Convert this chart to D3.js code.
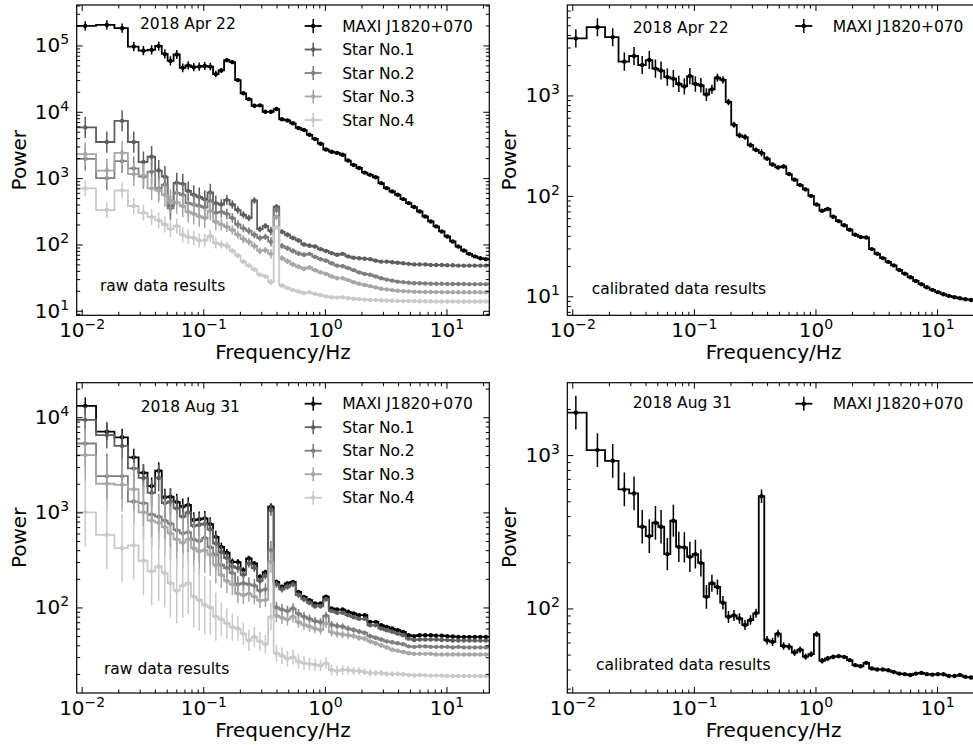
<!DOCTYPE html>
<html>
<head>
<meta charset="utf-8">
<script src="https://cdn.jsdelivr.net/npm/d3@7"></script>
<style>
  body { margin: 0; background: #fff; }
  svg { display: block; font-family: "DejaVu Sans", sans-serif; }
</style>
</head>
<body>
<div id="chart"></div>
<script>
// shared frequency grid (Hz)
const freqs = [0.0107, 0.0161, 0.0215, 0.0268, 0.0322, 0.0376, 0.0430, 0.0483, 0.0537, 0.0605,
  0.0678, 0.0752, 0.0835, 0.0927, 0.1029, 0.1142, 0.1268, 0.1407, 0.1562, 0.1734,
  0.1925, 0.2137, 0.2372, 0.2632, 0.2922, 0.3243, 0.3600, 0.3996, 0.4436, 0.4924,
  0.5465, 0.6066, 0.6733, 0.7474, 0.8296, 0.9209, 1.022, 1.135, 1.260, 1.398,
  1.552, 1.723, 1.912, 2.123, 2.356, 2.615, 2.903, 3.222, 3.577, 3.970,
  4.407, 4.891, 5.430, 6.027, 6.690, 7.426, 8.243, 9.149, 10.16, 11.27,
  12.51, 13.89, 15.42, 17.11, 18.99, 21.08];

// relative size of the error bars per bin (1 = lowest frequencies)
const relErr = [1.0, 1.0, 1.0, 1.0, 1.0, 1.0, 1.0, 1.0, 1.0, 0.95,
  0.95, 0.9, 0.9, 0.9, 0.85, 0.8, 0.7, 0.5, 0.45, 0.4,
  0.36, 0.33, 0.31, 0.3, 0.28, 0.27, 0.4, 0.25, 0.24, 0.23,
  0.22, 0.21, 0.2, 0.19, 0.18, 0.17, 0.17, 0.16, 0.15, 0.14,
  0.13, 0.12, 0.11, 0.1, 0.1, 0.09, 0.09, 0.08, 0.08, 0.07,
  0.07, 0.06, 0.06, 0.05, 0.05, 0.05, 0.04, 0.04, 0.04, 0.04,
  0.03, 0.03, 0.03, 0.03, 0.03, 0.03];

const seriesNames = ["MAXI J1820+070", "Star No.1", "Star No.2", "Star No.3", "Star No.4"];

// 2018 Apr 22, raw
const aprMaxi = [197000, 204000, 182000, 96000, 83500, 85600, 98000, 74500, 58500, 73000,
  46000, 50000, 47000, 48000, 49000, 48000, 37000, 42000, 60000, 56000,
  30000, 19000, 15500, 12300, 12500, 10000, 10000, 11000, 7700, 7400,
  6700, 5700, 5300, 4500, 3900, 3300, 2700, 2500, 2400, 2250,
  1840, 1580, 1420, 1210, 1120, 1030, 840, 706, 628, 561,
  483, 420, 366, 314, 264, 222, 187, 157, 132, 111,
  93, 81, 72, 66, 62, 60];
const aprStar1 = [5800, 3500, 7300, 3500, 1750, 2100, 1300, 1050, 380, 850,
  820, 640, 560, 520, 480, 610, 420, 400, 470, 400,
  330, 280, 250, 460, 170, 190, 160, 370, 155, 140,
  125, 115, 100, 96, 93, 85, 80, 74, 70, 72,
  66, 63, 62, 61, 60, 57, 55, 55, 54, 53,
  52, 51, 50, 50, 50, 49, 49, 49, 48.5, 48.5,
  48, 48, 48, 48, 48, 48];
const aprStar2 = [1950, 1000, 1800, 1400, 1050, 1250, 700, 800, 350, 600,
  560, 420, 400, 380, 360, 450, 300, 310, 290, 250,
  200, 175, 160, 140, 125, 130, 110, 330, 95, 88,
  80, 73, 70, 72, 65, 60, 57, 52, 48, 47,
  44, 41, 38, 36, 35, 33, 31, 29.5, 28.5, 27.5,
  27, 26.5, 26, 26, 25.8, 25.6, 25.5, 25.5, 25.4, 25.4,
  25.3, 25.3, 25.2, 25.2, 25.2, 25.2];
const aprStar3 = [2300, 1300, 2400, 1150, 1100, 700, 650, 560, 450, 430,
  380, 310, 290, 265, 250, 320, 220, 200, 185, 165,
  140, 120, 110, 95, 80, 82, 72, 260, 62, 56,
  50, 46, 43, 45, 41, 38, 36, 33, 31, 31,
  29, 27, 25.5, 24.5, 23.5, 22.5, 21.5, 21, 20.5, 20,
  19.8, 19.6, 19.4, 19.3, 19.2, 19.2, 19.1, 19.1, 19.1, 19,
  19, 19, 19, 19, 19, 19];
const aprStar4 = [700, 330, 650, 380, 300, 260, 230, 200, 170, 190,
  140, 130, 125, 115, 115, 135, 105, 100, 95, 80,
  68, 55, 48, 42, 35, 33, 27, 180, 24, 22,
  20.5, 19.5, 18.5, 19, 18, 17.2, 16.5, 16, 15.8, 16,
  15.5, 15.2, 15, 14.8, 14.6, 14.5, 14.4, 14.3, 14.2, 14.1,
  14, 14, 14, 13.9, 13.9, 13.9, 13.8, 13.8, 13.8, 13.8,
  13.8, 13.8, 13.8, 13.8, 13.8, 13.8];
// 2018 Apr 22, calibrated
const aprCalib = [3700, 4780, 3800, 2170, 2470, 2010, 2250, 1850, 1770, 1520,
  1470, 1300, 1230, 1560, 1300, 1260, 1020, 1150, 1500, 1430,
  860, 510, 400, 385, 320, 287, 268, 235, 205, 192,
  196, 165, 145, 128, 116, 100, 82, 71, 74, 62,
  56, 51, 46, 41, 39, 38.5, 29.5, 26.5, 24, 22,
  20.3, 18.3, 16.8, 15.5, 14.2, 13.2, 12.3, 11.6, 11.0, 10.5,
  10.1, 9.8, 9.55, 9.35, 9.2, 9.1];

// 2018 Aug 31, raw
const augMaxi = [13150, 7060, 6160, 3790, 2610, 1890, 2740, 1440, 1460, 1290,
  1150, 1200, 830, 845, 865, 753, 553, 434, 376, 302,
  300, 247, 328, 290, 210, 235, 1150, 186, 165, 179,
  186, 146, 129, 119, 110, 110, 130, 97.5, 95, 95,
  90, 86.5, 83, 83, 70.5, 70.5, 65, 62.5, 60, 57.7,
  55.4, 51, 50, 51, 51, 51, 50.5, 50.5, 50, 49.5,
  49, 49, 49, 49, 49, 49];
const augStar1 = [9400, 6500, 5000, 2900, 2300, 1600, 2300, 1250, 1300, 1100,
  900, 1000, 720, 740, 760, 660, 470, 380, 330, 270,
  260, 220, 290, 260, 190, 215, 1050, 175, 155, 165,
  175, 135, 122, 112, 103, 103, 122, 92, 88, 88,
  83, 79, 76, 76, 65, 65, 60, 57.5, 55.5, 53,
  51, 47, 45.5, 46, 46, 46, 46, 45.5, 45.5, 45,
  45, 45, 45, 44.8, 44.8, 44.8];
const augStar2 = [5300, 2400, 2400, 1300, 1250, 950, 900, 820, 760, 650,
  600, 620, 520, 500, 540, 430, 360, 280, 260, 230,
  175, 180, 175, 170, 150, 155, 400, 100, 95, 92,
  98, 86, 80, 76, 72, 70, 82, 66, 64, 63,
  60, 58, 56, 54, 50, 48, 46, 44, 43, 42,
  41, 39, 38.5, 39, 39, 38.5, 38.5, 38.5, 38.5, 38,
  38.5, 38, 38, 38, 38, 38];
const augStar3 = [4000, 2000, 1950, 1750, 1000, 820, 780, 700, 600, 520,
  480, 520, 420, 390, 400, 360, 280, 220, 190, 175,
  140, 135, 140, 130, 118, 120, 300, 82, 78, 75,
  80, 70, 66, 63, 60, 58, 68, 55, 53, 52,
  51, 50, 48, 47, 44, 42, 40, 38, 36, 35,
  34, 33, 32.5, 32.5, 32.5, 32.5, 32, 32, 32, 32,
  32, 32, 32, 32, 32, 32];
const augStar4 = [1000, 580, 420, 450, 310, 240, 270, 230, 180, 150,
  170, 180, 130, 120, 106, 100, 80, 75, 68, 62,
  60, 53, 45, 49, 44, 41, 80, 33, 31, 29,
  30, 27, 26, 25.5, 25, 24.5, 26, 22, 21.5, 22,
  22, 21.5, 21.5, 21, 20.5, 20.5, 20.5, 20, 20, 20,
  19.8, 19.5, 19.3, 19.5, 19.3, 19.2, 19.2, 19.2, 19, 19,
  19, 19, 19, 19, 19, 19];
// 2018 Aug 31, calibrated
const augCalib = [1890, 1078, 918, 597, 562, 341, 296, 362, 341, 226,
  373, 252, 250, 217, 226, 198, 119, 146, 138, 109,
  88, 90, 86, 78, 84, 93, 540, 62, 60.5, 68.5,
  56.9, 56.3, 51.6, 53.8, 48.5, 50.3, 68, 45.6, 47.2, 48.3,
  48.9, 48.3, 46, 42.7, 42, 44.2, 40.6, 40, 40, 39.5,
  38.5, 37.6, 37.3, 36.8, 37.6, 38, 37.3, 37, 37.3, 37.2,
  36.3, 36.3, 36.8, 35.8, 35.5, 35.8];

// error bar half size (dex) at the lowest frequencies, one per series
const aprRawErr = [0.07, 0.16, 0.18, 0.18, 0.12];
const aprCalErr = [0.09];
const augRawErr = [0.09, 0.14, 0.24, 0.28, 0.36];
const augCalErr = [0.11];

// axis limits and labelled decades
const xLim = [0.0091, 22.5];
const xTickExp = [-2, -1, 0, 1];
const aprRawYLim = [8.55, 4.07e5];
const aprRawYExp = [1, 2, 3, 4, 5];
const aprCalYLim = [6.47, 7950];
const aprCalYExp = [1, 2, 3];
const augRawYLim = [12.6, 23100];
const augRawYExp = [2, 3, 4];
const augCalYLim = [28.1, 2965];
const augCalYExp = [2, 3];

const greys = ["#000000", "#5e5e5e", "#7e7e7e", "#a6a6a6", "#c9c9c9"];

const panels = [
  {series: [aprMaxi, aprStar1, aprStar2, aprStar3, aprStar4], err: aprRawErr, ylim: aprRawYLim, yExp: aprRawYExp,
   date: "2018 Apr 22", note: "raw data results",
   left: 76.7, top: 5, dateX: 140, dateY: 23.3, noteX: 100, noteY: 286},
  {series: [aprCalib], err: aprCalErr, ylim: aprCalYLim, yExp: aprCalYExp,
   date: "2018 Apr 22", note: "calibrated data results",
   left: 567.3, top: 5, dateX: 632.7, dateY: 27.7, noteX: 591.7, noteY: 288.3},
  {series: [augMaxi, augStar1, augStar2, augStar3, augStar4], err: augRawErr, ylim: augRawYLim, yExp: augRawYExp,
   date: "2018 Aug 31", note: "raw data results",
   left: 76.7, top: 382.7, dateX: 140.7, dateY: 406.7, noteX: 104, noteY: 668.3},
  {series: [augCalib], err: augCalErr, ylim: augCalYLim, yExp: augCalYExp,
   date: "2018 Aug 31", note: "calibrated data results",
   left: 567.3, top: 382.7, dateX: 632.7, dateY: 402.3, noteX: 596, noteY: 665}
];

const width = 973, height = 745;
const panelW = 412.6, panelH = 310.3;
const font = "DejaVu Sans";

const svg = d3.select("#chart").append("svg")
  .attr("width", width)
  .attr("height", height)
  .style("background", "white");

const isMajor = v => Math.abs(Math.log10(v) - Math.round(Math.log10(v))) < 1e-6;

function supLabel(sel) {
  sel.each(function(d) {
    const e = Math.round(Math.log10(d));
    const t = d3.select(this).text(null);
    t.append("tspan").text("10");
    t.append("tspan").attr("dy", -8).attr("font-size", 14).text(e < 0 ? "\u2212" + (-e) : String(e));
  });
}

function drawPanel(p, idx) {
  const x = d3.scaleLog().domain(xLim).range([p.left, p.left + panelW]);
  const y = d3.scaleLog().domain(p.ylim).range([p.top + panelH, p.top]);
  const g = svg.append("g");

  g.append("clipPath").attr("id", "clip" + idx).append("rect")
    .attr("x", p.left).attr("y", p.top).attr("width", panelW).attr("height", panelH);
  const plot = g.append("g").attr("clip-path", `url(#clip${idx})`);

  const line = d3.line().x(d => x(d[0])).y(d => y(d[1])).curve(d3.curveStep);

  p.series.forEach((vals, k) => {
    const color = greys[k];
    const pts = freqs.map((f, i) => [f, vals[i], relErr[i] * p.err[k]]);
    const stepPts = [[xLim[0], vals[0]], ...pts, [xLim[1], vals[vals.length - 1]]];
    plot.append("path").attr("d", line(stepPts))
      .attr("fill", "none").attr("stroke", color).attr("stroke-width", 1.8);
    plot.append("g").selectAll("line").data(pts).join("line")
      .attr("x1", d => x(d[0])).attr("x2", d => x(d[0]))
      .attr("y1", d => y(d[1] * Math.pow(10, d[2])))
      .attr("y2", d => y(d[1] / Math.pow(10, d[2])))
      .attr("stroke", color).attr("stroke-width", 1.5);
    plot.append("g").selectAll("circle").data(pts).join("circle")
      .attr("cx", d => x(d[0])).attr("cy", d => y(d[1])).attr("r", 2.2)
      .attr("fill", color);
  });

  // ticks, pointing inwards on all four sides
  const majX = xTickExp.map(e => Math.pow(10, e));
  const minX = x.ticks().filter(v => !isMajor(v));
  const majY = p.yExp.map(e => Math.pow(10, e));
  const minY = y.ticks().filter(v => !isMajor(v));
  const bottom = p.top + panelH, right = p.left + panelW;

  const axes = [
    [d3.axisBottom(x).tickValues(majX).tickSizeInner(-6), `translate(0,${bottom})`, true],
    [d3.axisBottom(x).tickValues(minX).tickSizeInner(-3.5), `translate(0,${bottom})`, false],
    [d3.axisTop(x).tickValues(majX).tickSizeInner(-6), `translate(0,${p.top})`, false],
    [d3.axisTop(x).tickValues(minX).tickSizeInner(-3.5), `translate(0,${p.top})`, false],
    [d3.axisLeft(y).tickValues(majY).tickSizeInner(-6), `translate(${p.left},0)`, true],
    [d3.axisLeft(y).tickValues(minY).tickSizeInner(-3.5), `translate(${p.left},0)`, false],
    [d3.axisRight(y).tickValues(majY).tickSizeInner(-6), `translate(${right},0)`, false],
    [d3.axisRight(y).tickValues(minY).tickSizeInner(-3.5), `translate(${right},0)`, false]
  ];
  axes.forEach(([ax, tr, labelled]) => {
    const a = g.append("g").attr("transform", tr)
      .call(ax.tickSizeOuter(0).tickPadding(labelled ? 7.5 : 0).tickFormat(labelled ? null : ""))
      .attr("font-size", 20).attr("font-family", font);
    a.select(".domain").remove();
    a.selectAll(".tick line").attr("stroke", "#000").attr("stroke-width", 1);
    if (labelled) a.selectAll(".tick text").attr("fill", "#000").call(supLabel);
    else a.selectAll(".tick text").remove();
  });

  g.append("rect")
    .attr("x", p.left).attr("y", p.top).attr("width", panelW).attr("height", panelH)
    .attr("fill", "none").attr("stroke", "#000").attr("stroke-width", 1.2);

  // axis titles
  g.append("text")
    .attr("transform", `translate(${p.left - 51},${p.top + panelH / 2}) rotate(-90)`)
    .attr("text-anchor", "middle").attr("font-size", 20).attr("font-family", font)
    .text("Power");
  g.append("text")
    .attr("x", p.left + panelW / 2).attr("y", bottom + 44)
    .attr("text-anchor", "middle").attr("font-size", 20).attr("font-family", font)
    .text("Frequency/Hz");

  g.append("text").attr("x", p.dateX).attr("y", p.dateY + 5.6)
    .attr("font-size", 15.5).attr("font-family", font).text(p.date);
  g.append("text").attr("x", p.noteX).attr("y", p.noteY + 5.4)
    .attr("font-size", 15.5).attr("font-family", font).text(p.note);

  // legend
  p.series.forEach((vals, k) => {
    const cy = p.top + 21 + k * 23.5;
    const hx = p.left + 236.5;
    const color = greys[k];
    g.append("line").attr("x1", hx - 8.5).attr("x2", hx + 8.5).attr("y1", cy).attr("y2", cy)
      .attr("stroke", color).attr("stroke-width", 1.8);
    g.append("line").attr("x1", hx).attr("x2", hx).attr("y1", cy - 7).attr("y2", cy + 7)
      .attr("stroke", color).attr("stroke-width", 1.5);
    g.append("circle").attr("cx", hx).attr("cy", cy).attr("r", 2.2).attr("fill", color);
    g.append("text").attr("x", p.left + 265.5).attr("y", cy + 5.6)
      .attr("font-size", 15.5).attr("font-family", font).text(seriesNames[k]);
  });
}

panels.forEach(drawPanel);
</script>
</body>
</html>
